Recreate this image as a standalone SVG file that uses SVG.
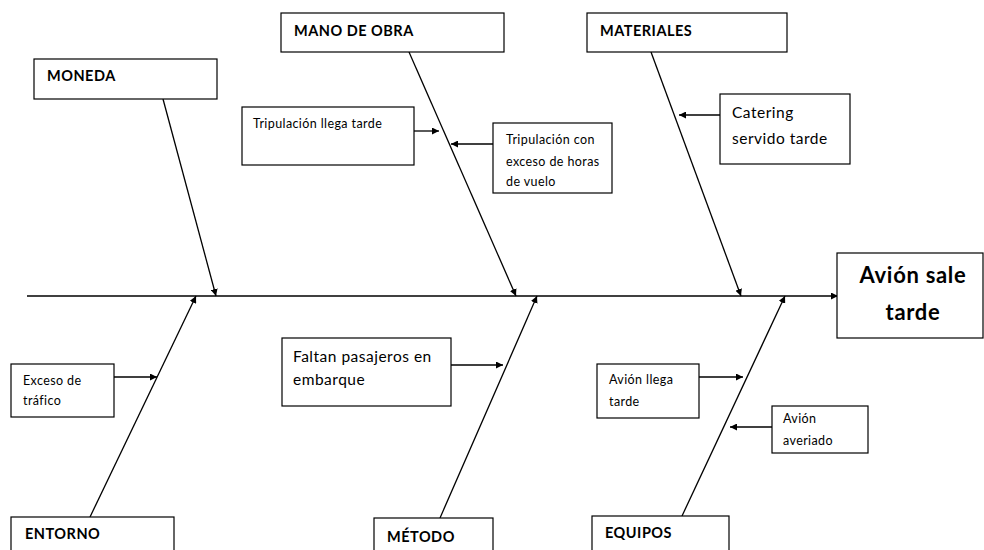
<svg xmlns="http://www.w3.org/2000/svg" width="984" height="550" viewBox="0 0 984 550">
  <style>
    .box { fill: #ffffff; stroke: #000000; stroke-width: 1.2; }
    .cat { font-family: Lato, "Liberation Sans", sans-serif; font-weight: bold; font-size: 14.5px; letter-spacing: 0.5px; fill: #000; }
    .s { font-family: Lato, "Liberation Sans", sans-serif; font-size: 12.5px; letter-spacing: 0.4px; fill: #000; }
    .m { font-family: Lato, "Liberation Sans", sans-serif; font-size: 15.5px; letter-spacing: 0.5px; fill: #000; }
    .head { font-family: Lato, "Liberation Sans", sans-serif; font-weight: bold; font-size: 22px; letter-spacing: 0.7px; fill: #000; }
    .ln { stroke: #000000; stroke-width: 1.3; fill: none; marker-end: url(#arr); }
  </style>
  <defs>
    <marker id="arr" viewBox="0 0 10 10" refX="10" refY="5" markerWidth="7" markerHeight="7" markerUnits="userSpaceOnUse" orient="auto">
      <path d="M0,0 L10,5 L0,10 z" fill="#000"/>
    </marker>
  </defs>

  <!-- spine and bones -->
  <g id="connectors">
    <line class="ln" x1="27" y1="296" x2="838" y2="296"/>
    <line class="ln" x1="163" y1="99" x2="216" y2="296"/>
    <line class="ln" x1="409" y1="52" x2="516" y2="296"/>
    <line class="ln" x1="651" y1="52" x2="741" y2="296"/>
    <line class="ln" x1="90" y1="517" x2="196" y2="296"/>
    <line class="ln" x1="440" y1="518" x2="537" y2="296"/>
    <line class="ln" x1="682" y1="516" x2="785" y2="296"/>
    <line class="ln" x1="414" y1="131" x2="439" y2="131"/>
    <line class="ln" x1="493" y1="144" x2="451" y2="144"/>
    <line class="ln" x1="720" y1="115" x2="679" y2="115"/>
    <line class="ln" x1="114" y1="377" x2="157" y2="377"/>
    <line class="ln" x1="451" y1="365" x2="503" y2="365"/>
    <line class="ln" x1="699" y1="377" x2="743" y2="377"/>
    <line class="ln" x1="772" y1="427" x2="730" y2="427"/>
  </g>

  <g id="moneda">
    <rect class="box" x="34" y="59" width="183" height="40"/>
    <text class="cat" x="47" y="81">MONEDA</text>
  </g>
  <g id="mano-de-obra">
    <rect class="box" x="281" y="13" width="223" height="39"/>
    <text class="cat" x="294" y="36">MANO DE OBRA</text>
  </g>
  <g id="materiales">
    <rect class="box" x="587" y="13" width="200" height="39"/>
    <text class="cat" x="600" y="36">MATERIALES</text>
  </g>
  <g id="tripulacion-tarde">
    <rect class="box" x="242" y="107" width="172" height="58"/>
    <text class="s" x="253" y="128">Tripulación llega tarde</text>
  </g>
  <g id="tripulacion-horas">
    <rect class="box" x="493" y="123" width="119" height="70"/>
    <text class="s" x="506" y="144">Tripulación con</text>
    <text class="s" x="506" y="166">exceso de horas</text>
    <text class="s" x="506" y="186">de vuelo</text>
  </g>
  <g id="catering">
    <rect class="box" x="720" y="94" width="130" height="70"/>
    <text class="m" x="732" y="118">Catering</text>
    <text class="m" x="732" y="144">servido tarde</text>
  </g>
  <g id="efecto">
    <rect class="box" x="837" y="253" width="146" height="85"/>
    <text class="head" x="913" y="283" text-anchor="middle">Avión sale</text>
    <text class="head" x="913" y="320" text-anchor="middle">tarde</text>
  </g>
  <g id="trafico">
    <rect class="box" x="11" y="364" width="103" height="53"/>
    <text class="s" x="23" y="385">Exceso de</text>
    <text class="s" x="23" y="405">tráfico</text>
  </g>
  <g id="pasajeros">
    <rect class="box" x="282" y="338" width="169" height="68"/>
    <text class="m" x="293" y="362">Faltan pasajeros en</text>
    <text class="m" x="293" y="385">embarque</text>
  </g>
  <g id="avion-llega">
    <rect class="box" x="597" y="364" width="102" height="54"/>
    <text class="s" x="609" y="384">Avión llega</text>
    <text class="s" x="609" y="406">tarde</text>
  </g>
  <g id="avion-averiado">
    <rect class="box" x="772" y="406" width="96" height="47"/>
    <text class="s" x="783" y="423">Avión</text>
    <text class="s" x="783" y="445">averiado</text>
  </g>
  <g id="entorno">
    <rect class="box" x="11" y="517" width="163" height="40"/>
    <text class="cat" x="25" y="539">ENTORNO</text>
  </g>
  <g id="metodo">
    <rect class="box" x="374" y="518" width="119" height="40"/>
    <text class="cat" x="387" y="542">MÉTODO</text>
  </g>
  <g id="equipos">
    <rect class="box" x="592" y="516" width="137" height="40"/>
    <text class="cat" x="605" y="538">EQUIPOS</text>
  </g>
</svg>
